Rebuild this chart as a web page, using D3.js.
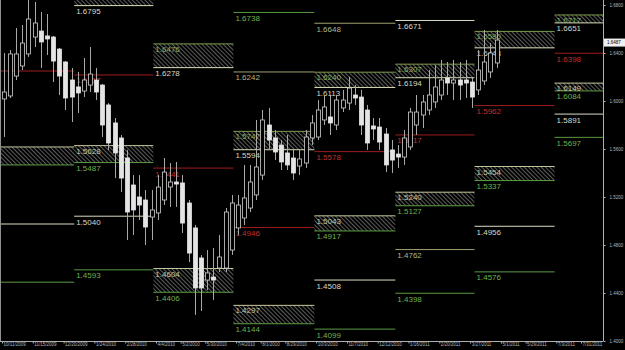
<!DOCTYPE html>
<html>
<head>
<meta charset="utf-8">
<script src="https://cdn.jsdelivr.net/npm/d3@7"></script>
<style>
    html, body { margin: 0; padding: 0; background: #000; }
    svg { display: block; }
    .lvl-label { font-family: "Liberation Sans", Arial, sans-serif; font-size: 8px; }
    .axis text { font-family: "Liberation Sans", Arial, sans-serif; font-size: 4.5px; fill: #b8b8b8; }
    .axis line, .axis path { stroke: #b0b0b0; }
</style>
</head>
<body>
<div id="chart"></div>
<script>
// Weekly candles, first week starts 10/11/2009
const firstWeek = new Date(2009, 9, 11);
const opens  = [1.6017,1.6042,1.6208,1.6292,1.6392,1.6533,1.6583,1.6542,1.6533,1.6433,1.6325,1.6175,1.6117,1.6083,1.6133,1.6175,1.6133,1.5967,1.5817,1.5692,1.5525,1.5300,1.5200,1.5175,1.5033,1.5067,1.5175,1.5283,1.5325,1.5317,1.5150,1.4942,1.4692,1.4508,1.4533,1.4608,1.4608,1.4758,1.4942,1.5025,1.5108,1.5217,1.5383,1.5800,1.5692,1.5633,1.5567,1.5525,1.5458,1.5483,1.5692,1.5700,1.5842,1.5867,1.5800,1.5942,1.5983,1.6050,1.6033,1.5925,1.5792,1.5783,1.5725,1.5592,1.5558,1.5533,1.5617,1.5800,1.5883,1.5925,1.5992,1.6050,1.6192,1.6150,1.6175,1.6175,1.6158,1.6092,1.6167,1.6242,1.6317];
const highs  = [1.6400,1.6425,1.6608,1.6633,1.6842,1.6825,1.6742,1.6725,1.6542,1.6442,1.6333,1.6275,1.6242,1.6358,1.6450,1.6275,1.6142,1.5983,1.5858,1.5717,1.5592,1.5383,1.5383,1.5258,1.5258,1.5383,1.5525,1.5483,1.5492,1.5383,1.5175,1.4967,1.4717,1.4758,1.4775,1.4883,1.5108,1.5217,1.5217,1.5467,1.5467,1.5842,1.5925,1.5942,1.5758,1.5675,1.5717,1.5592,1.5592,1.5758,1.5883,1.6008,1.6050,1.6050,1.6050,1.6092,1.6200,1.6133,1.6092,1.5967,1.5858,1.5858,1.5775,1.5675,1.5633,1.5758,1.5942,1.6050,1.6050,1.6258,1.6300,1.6342,1.6325,1.6342,1.6325,1.6342,1.6192,1.6425,1.6592,1.6483,1.6592];
const lows   = [1.5700,1.6025,1.6175,1.6258,1.6367,1.6450,1.6275,1.6383,1.6158,1.6050,1.5925,1.5825,1.5900,1.6033,1.6075,1.6008,1.5700,1.5592,1.5358,1.5242,1.4842,1.4883,1.5008,1.4800,1.4842,1.5008,1.5133,1.5117,1.5117,1.4900,1.4658,1.4217,1.4250,1.4425,1.4342,1.4575,1.4575,1.4717,1.4883,1.4967,1.5075,1.5175,1.5342,1.5592,1.5508,1.5425,1.5425,1.5342,1.5383,1.5442,1.5633,1.5675,1.5800,1.5717,1.5758,1.5908,1.5925,1.5967,1.5717,1.5592,1.5675,1.5592,1.5408,1.5400,1.5442,1.5467,1.5592,1.5717,1.5775,1.5883,1.5942,1.6008,1.6050,1.6008,1.6008,1.6025,1.5942,1.6050,1.6133,1.6192,1.6275];
const closes = [1.6075,1.6392,1.6392,1.6483,1.6683,1.6650,1.6492,1.6517,1.6333,1.6208,1.6025,1.6033,1.6067,1.6175,1.6225,1.6075,1.5800,1.5650,1.5567,1.5358,1.5075,1.5092,1.5133,1.4950,1.5092,1.5283,1.5408,1.5325,1.5308,1.4983,1.4733,1.4442,1.4442,1.4567,1.4508,1.4700,1.5075,1.5150,1.5133,1.5192,1.5325,1.5450,1.5842,1.5675,1.5575,1.5492,1.5467,1.5400,1.5517,1.5700,1.5817,1.5925,1.5950,1.5817,1.6008,1.6008,1.6108,1.6025,1.5800,1.5650,1.5767,1.5658,1.5467,1.5508,1.5533,1.5692,1.5908,1.5908,1.5992,1.6050,1.6117,1.6175,1.6150,1.6175,1.6133,1.6150,1.6033,1.6258,1.6325,1.6400,1.6508];

// Quarterly pivot levels
const quarterStarts = ["2009-10-01","2010-01-01","2010-04-01","2010-07-01","2010-10-01","2011-01-01","2011-04-01","2011-07-01","2011-10-01"];
// [quarter, price, kind]
const levelLines = [
    [0, 1.6250, "pivot"], [0, 1.4975, "level"], [0, 1.4490, "ext"],
    [1, 1.6217, "pivot"], [1, 1.5040, "level"], [1, 1.4593, "ext"],
    [2, 1.5441, "pivot"],
    [3, 1.6738, "ext"], [3, 1.6242, "weak"], [3, 1.4946, "pivot"],
    [4, 1.6648, "weak"], [4, 1.5578, "pivot"], [4, 1.4508, "level"], [4, 1.4099, "ext"],
    [5, 1.6671, "level"], [5, 1.5717, "pivot"], [5, 1.4762, "weak"], [5, 1.4398, "ext"],
    [6, 1.5962, "pivot"], [6, 1.4956, "level"], [6, 1.4576, "ext"],
    [7, 1.6398, "pivot"], [7, 1.5891, "level"], [7, 1.5697, "ext"]
];
// [quarter, top, bottom, side]
const levelZones = [
    [0, 1.5617, 1.5467, "S"],
    [1, 1.6930, 1.6795, "R"], [1, 1.5628, 1.5487, "S"],
    [2, 1.6476, 1.6278, "R"], [2, 1.4604, 1.4406, "S"],
    [3, 1.5747, 1.5594, "R"], [3, 1.4297, 1.4144, "S"],
    [4, 1.6240, 1.6113, "R"], [4, 1.5043, 1.4917, "S"],
    [5, 1.6307, 1.6194, "R"], [5, 1.5240, 1.5127, "S"],
    [6, 1.6580, 1.6443, "R"], [6, 1.5454, 1.5337, "S"],
    [7, 1.6717, 1.6651, "R"], [7, 1.6149, 1.6084, "S"]
];

// Axis ticks
const priceTicks = [1.40, 1.44, 1.48, 1.52, 1.56, 1.60, 1.64, 1.68];
const dateTicks = ["2009-10-11","2009-11-15","2009-12-20","2010-01-24","2010-02-28","2010-04-04","2010-05-02","2010-05-30","2010-07-04","2010-08-01","2010-08-29","2010-10-03","2010-11-07","2010-12-12","2011-01-16","2011-02-20","2011-03-27","2011-05-01","2011-05-29","2011-07-03","2011-07-31"];
const lastPrice = 1.6487;

const width = 625, height = 350;
const plotRight = 603, plotBottom = 341;

const parseDate = d3.timeParse("%Y-%m-%d");

const svg = d3.select("#chart")
    .append("svg")
    .attr("width", width)
    .attr("height", height)
    .style("background", "#000");

const x = d3.scaleTime()
    .domain([new Date(2009, 9, 11), new Date(2011, 6, 31)])
    .range([2, 581]);

const y = d3.scaleLinear()
    .domain([1.40, 1.68])
    .range([341, 5]);

// colours for each kind of level
const lineColor = { pivot: "#a01c1c", ext: "#5a9a42", level: "#dcdcc4", weak: "#a0a070" };
const labelColor = { pivot: "#c03030", ext: "#70b050", level: "#d8d8c8", weak: "#b4b488" };
const zoneTop = { R: "#7c9c4c", S: "#c8c89c" };
const zoneBottom = { R: "#dcdcbc", S: "#5c9c44" };
const zoneTopLabel = { R: "#8cb05c", S: "#c8c8a0" };
const zoneBottomLabel = { R: "#d8d8c8", S: "#70b050" };

const defs = svg.append("defs");
defs.append("clipPath")
    .attr("id", "plot-clip")
    .append("rect")
    .attr("x", 0).attr("y", 0)
    .attr("width", plotRight).attr("height", plotBottom);

// diagonal hatch for the zones
const hatch = defs.append("pattern")
    .attr("id", "hatch")
    .attr("patternUnits", "userSpaceOnUse")
    .attr("width", 3)
    .attr("height", 3)
    .attr("patternTransform", "rotate(-45)");
hatch.append("line")
    .attr("x1", 0).attr("y1", 0)
    .attr("x2", 0).attr("y2", 3)
    .attr("stroke", "#9a9a9a")
    .attr("stroke-width", 1.2);

const plot = svg.append("g").attr("clip-path", "url(#plot-clip)");

const qx0 = q => x(parseDate(quarterStarts[q]));
const qx1 = q => x(parseDate(quarterStarts[q + 1]));

// only label levels whose text fits inside the plot
const addLabel = (q, yPos, color, value) => {
    if (q === 0 || yPos < 8) return;
    plot.append("text")
        .attr("class", "lvl-label")
        .attr("x", qx0(q) + 2)
        .attr("y", yPos)
        .attr("fill", color)
        .text(value.toFixed(4));
};

// Zones
levelZones.forEach(([q, top, bottom, side]) => {
    const x0 = qx0(q), x1 = qx1(q);
    plot.append("rect")
        .attr("x", x0)
        .attr("y", y(top))
        .attr("width", x1 - x0)
        .attr("height", y(bottom) - y(top))
        .attr("fill", "url(#hatch)");
    plot.append("line")
        .attr("x1", x0).attr("x2", x1)
        .attr("y1", y(top)).attr("y2", y(top))
        .attr("stroke", zoneTop[side]);
    plot.append("line")
        .attr("x1", x0).attr("x2", x1)
        .attr("y1", y(bottom)).attr("y2", y(bottom))
        .attr("stroke", zoneBottom[side]);
    addLabel(q, y(top) + 8, zoneTopLabel[side], top);
    addLabel(q, y(bottom) + 8.5, zoneBottomLabel[side], bottom);
});

// Single level lines
levelLines.forEach(([q, price, kind]) => {
    const x0 = qx0(q), x1 = qx1(q);
    plot.append("line")
        .attr("x1", x0).attr("x2", x1)
        .attr("y1", y(price)).attr("y2", y(price))
        .attr("stroke", lineColor[kind]);
    addLabel(q, y(price) + 8.5, labelColor[kind], price);
});

// Candles
const candles = opens.map((o, i) => ({
    date: d3.timeWeek.offset(firstWeek, i),
    open: o, high: highs[i], low: lows[i], close: closes[i]
}));
const cx = d => Math.round(x(d3.timeDay.offset(d.date, 2))) + 0.5;

plot.selectAll(".wick")
    .data(candles)
    .enter()
    .append("line")
    .attr("class", "wick")
    .attr("x1", cx).attr("x2", cx)
    .attr("y1", d => y(d.high))
    .attr("y2", d => y(d.low))
    .attr("stroke", "#a8a8a8");

plot.selectAll(".body")
    .data(candles)
    .enter()
    .append("rect")
    .attr("class", "body")
    .attr("x", d => cx(d) - 2)
    .attr("y", d => y(Math.max(d.open, d.close)))
    .attr("width", 4)
    .attr("height", d => Math.max(1, Math.abs(y(d.open) - y(d.close))))
    .attr("fill", d => d.close >= d.open ? "#000" : "#e4e4e4")
    .attr("stroke", d => d.close >= d.open ? "#d0d0d0" : "#e4e4e4")
    .attr("stroke-width", 0.8);

// frame on the left
svg.append("line")
    .attr("x1", 0.5).attr("x2", 0.5)
    .attr("y1", 0).attr("y2", plotBottom)
    .attr("stroke", "#909090");

// Price axis on the right
const yAxis = d3.axisRight(y)
    .tickValues(priceTicks)
    .tickFormat(d3.format(".4f"))
    .tickSize(2)
    .tickPadding(4);
svg.append("g")
    .attr("class", "axis")
    .attr("transform", `translate(${plotRight + 0.5},0)`)
    .call(yAxis)
    .call(g => g.select(".domain").attr("d", `M0,0V${plotBottom}`));

// Date axis at the bottom
const xAxis = d3.axisBottom(x)
    .tickValues(dateTicks.map(parseDate))
    .tickFormat(d3.timeFormat("%-m/%-d/%Y"))
    .tickSize(2);
svg.append("g")
    .attr("class", "axis")
    .attr("transform", `translate(0,${plotBottom + 0.5})`)
    .call(xAxis)
    .call(g => g.select(".domain").attr("d", `M0,0H${plotRight}`))
    .call(g => g.selectAll("text")
        .attr("text-anchor", "start")
        .attr("x", 1)
        .attr("y", 1.5));

// last price tag
svg.append("rect")
    .attr("x", plotRight + 1)
    .attr("y", y(lastPrice) - 4)
    .attr("width", 21)
    .attr("height", 8)
    .attr("fill", "#f0f0f0");
svg.append("text")
    .attr("x", plotRight + 4)
    .attr("y", y(lastPrice) + 1.8)
    .style("font-family", "Liberation Sans, Arial, sans-serif")
    .style("font-size", "4.5px")
    .attr("fill", "#000")
    .text(lastPrice.toFixed(4));
</script>
</body>
</html>
